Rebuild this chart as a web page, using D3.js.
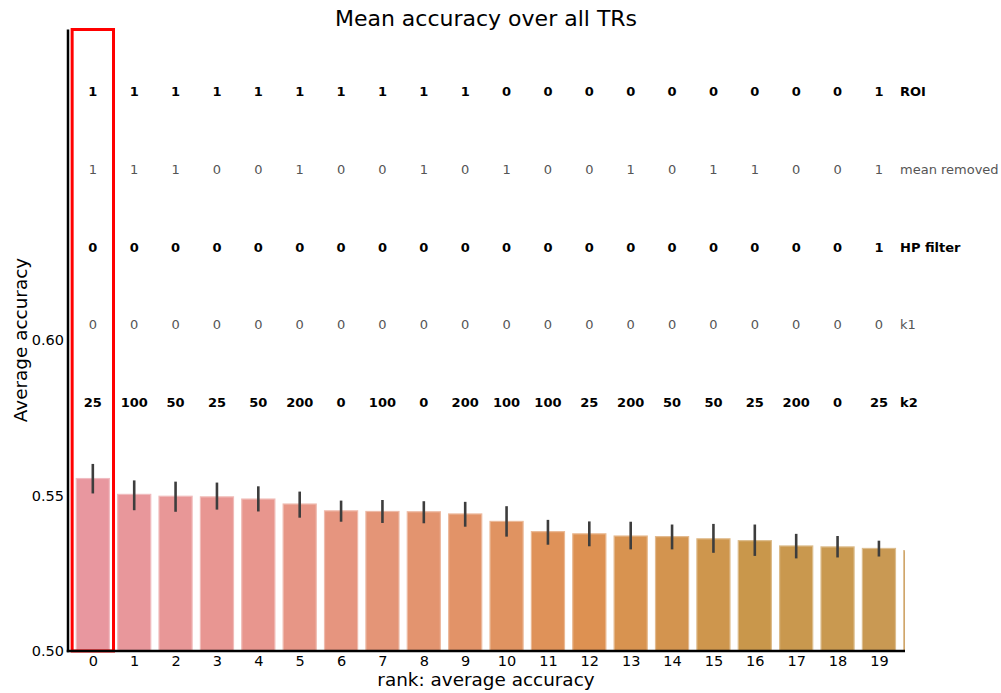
<!DOCTYPE html>
<html>
<head>
<meta charset="utf-8">
<script src="https://cdn.jsdelivr.net/npm/d3@7"></script>
<style>
  html, body { margin: 0; padding: 0; background: #fff; }
  svg { display: block; font-family: "DejaVu Sans", sans-serif; }
</style>
</head>
<body>
<svg id="chart" width="1001" height="693"></svg>
<script>
// Ranked configurations (rank 20 is only partly inside the axes)
const ranks = d3.range(21);
const meanAcc = [0.5555, 0.5504, 0.5498, 0.5496, 0.5489, 0.5473, 0.5451, 0.5449, 0.5448, 0.5441,
                 0.5417, 0.5384, 0.5377, 0.5370, 0.5368, 0.5361, 0.5355, 0.5338, 0.5335, 0.5330, 0.5323];
const ciLow  = [0.5507, 0.5453, 0.5448, 0.5455, 0.5449, 0.5429, 0.5416, 0.5412, 0.5411, 0.5400,
                0.5368, 0.5342, 0.5337, 0.5327, 0.5327, 0.5316, 0.5306, 0.5298, 0.5301, 0.5304];
const ciHigh = [0.5602, 0.5549, 0.5545, 0.5542, 0.5530, 0.5513, 0.5484, 0.5486, 0.5482, 0.5480,
                0.5466, 0.5422, 0.5417, 0.5416, 0.5407, 0.5409, 0.5407, 0.5377, 0.5370, 0.5355];

// Parameter settings of each ranked configuration
const rowNames = ["ROI", "mean removed", "HP filter", "k1", "k2"];
const roi         = [1,1,1,1,1,1,1,1,1,1,0,0,0,0,0,0,0,0,0,1];
const meanRemoved = [1,1,1,0,0,1,0,0,1,0,1,0,0,1,0,1,1,0,0,1];
const hpFilter    = [0,0,0,0,0,0,0,0,0,0,0,0,0,0,0,0,0,0,0,1];
const k1          = [0,0,0,0,0,0,0,0,0,0,0,0,0,0,0,0,0,0,0,0];
const k2          = [25,100,50,25,50,200,0,100,0,200,100,100,25,200,50,50,25,200,0,25];
const rowValues = [roi, meanRemoved, hpFilter, k1, k2];
const rowLevels = [0.68, 0.655, 0.63, 0.605, 0.58];

const yTicks = [0.50, 0.55, 0.60];
const bestRank = 0;

const svg = d3.select("#chart");
const plotLeft = 68, plotRight = 905, plotTop = 29.5, plotBottom = 651;

const x = d3.scaleLinear().domain([-0.6, 19.63]).range([plotLeft, plotRight]);
const y = d3.scaleLinear().domain([0.5, 0.7]).range([plotBottom, plotTop]);
const barW = x(0.8) - x(0);

const palette = d3.piecewise(d3.interpolateRgb,
  ["#e8979f", "#e8968e", "#e3946f", "#dd9152", "#c9974b", "#c99a55"]);
const color = k => palette(Math.min(k / 20, 1));

svg.append("defs").append("clipPath").attr("id", "plot")
  .append("rect").attr("x", plotLeft).attr("y", plotTop)
  .attr("width", plotRight - plotLeft).attr("height", plotBottom - plotTop);

const plot = svg.append("g").attr("clip-path", "url(#plot)");

// bars
plot.selectAll("rect.bar").data(ranks).join("rect")
  .attr("class", "bar")
  .attr("x", k => x(k) - barW / 2)
  .attr("width", barW)
  .attr("y", k => y(meanAcc[k]))
  .attr("height", k => y(0.5) - y(meanAcc[k]))
  .attr("fill", k => color(k))
  .attr("stroke", k => d3.interpolateRgb(color(k), "#ffffff")(0.35))
  .attr("stroke-width", 1.2);

// error bars
plot.selectAll("line.err").data(d3.range(ciLow.length)).join("line")
  .attr("class", "err")
  .attr("x1", k => x(k)).attr("x2", k => x(k))
  .attr("y1", k => y(ciLow[k])).attr("y2", k => y(ciHigh[k]))
  .attr("stroke", "#3d3d3d").attr("stroke-width", 2.6);

// highlight of the best configuration
svg.append("rect")
  .attr("x", x(bestRank - 0.5)).attr("y", y(0.7))
  .attr("width", x(bestRank + 0.5) - x(bestRank - 0.5))
  .attr("height", y(0.5) - y(0.7))
  .attr("fill", "none").attr("stroke", "#ff0000").attr("stroke-width", 3);

// parameter rows
rowValues.forEach((vals, r) => {
  const bold = r % 2 === 0;
  const g = svg.append("g")
    .attr("font-size", 13)
    .attr("font-weight", bold ? "bold" : "normal")
    .attr("fill", bold ? "#000" : "#555");
  g.selectAll("text.v").data(vals).join("text")
    .attr("class", "v")
    .attr("x", (d, k) => x(k))
    .attr("y", y(rowLevels[r]))
    .attr("dy", "0.36em")
    .attr("text-anchor", "middle")
    .text(d => d);
  g.append("text")
    .attr("x", 900).attr("y", y(rowLevels[r]))
    .attr("dy", "0.36em")
    .text(rowNames[r]);
});

// axes
const yAxis = d3.axisLeft(y).tickValues(yTicks).tickFormat(d3.format(".2f")).tickSize(0).tickPadding(4);
const gy = svg.append("g").attr("transform", `translate(${plotLeft},0)`).call(yAxis);
gy.select(".domain").remove();
gy.selectAll("text").attr("font-size", 14.5).attr("font-family", "DejaVu Sans").attr("fill", "#000");

const xAxis = d3.axisBottom(x).tickValues(d3.range(20)).tickFormat(d3.format("d")).tickSize(0).tickPadding(5);
const gx = svg.append("g").attr("transform", `translate(0,${plotBottom})`).call(xAxis);
gx.select(".domain").remove();
gx.selectAll("text").attr("font-size", 14.5).attr("font-family", "DejaVu Sans").attr("fill", "#000");

// spines
svg.append("line").attr("x1", plotLeft).attr("x2", plotLeft).attr("y1", plotTop).attr("y2", plotBottom + 1.25)
  .attr("stroke", "#000").attr("stroke-width", 2.5);
svg.append("line").attr("x1", plotLeft - 1.25).attr("x2", plotRight).attr("y1", plotBottom).attr("y2", plotBottom)
  .attr("stroke", "#000").attr("stroke-width", 2.5);

// titles
svg.append("text").attr("x", 486).attr("y", 26).attr("text-anchor", "middle")
  .attr("font-size", 22).text("Mean accuracy over all TRs");
svg.append("text").attr("x", 486).attr("y", 686).attr("text-anchor", "middle")
  .attr("font-size", 18.4).text("rank: average accuracy");
svg.append("text").attr("transform", "translate(27,340) rotate(-90)").attr("text-anchor", "middle")
  .attr("font-size", 18.4).text("Average accuracy");
</script>
</body>
</html>
